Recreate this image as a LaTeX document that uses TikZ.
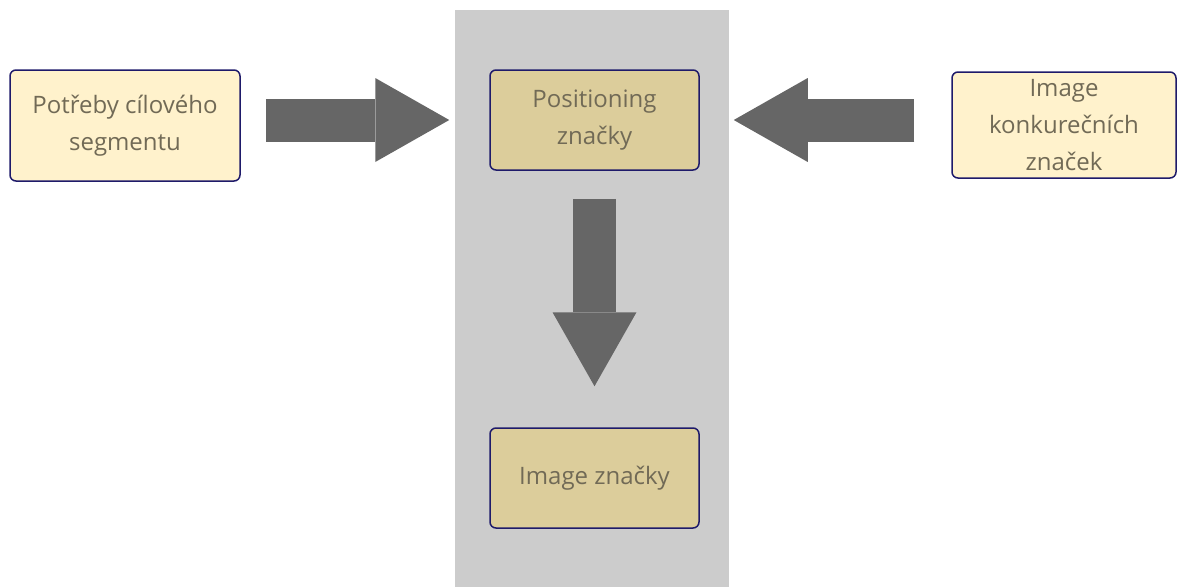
\documentclass[tikz,border=0pt]{standalone}
\usepackage{fontspec}
\setmainfont{Open Sans}
\usetikzlibrary{arrows.meta}
\definecolor{panelgris}{HTML}{CCCCCC}
\definecolor{flechagris}{HTML}{666666}
\definecolor{amarillo}{HTML}{FFF2CC}
\definecolor{ocre}{HTML}{DCCD9B}
\definecolor{azulborde}{HTML}{1E1A6A}
\definecolor{texto}{HTML}{716A56}
\begin{document}
\begin{tikzpicture}[x=1pt, y=-1pt,
	caja/.style={draw=azulborde, line width=1.5pt, rounded corners=6pt, align=center, text=texto, inner sep=0pt, font=\fontsize{24}{37}\selectfont},
	flecha/.style={flechagris, line width=43pt, -{Triangle[length=74pt, width=84pt, line width=0pt]}}]
	\def\w{1178}
	\def\h{587}
	\useasboundingbox (0,0) rectangle (\w,\h);
	
	\fill[panelgris] (455,10) rectangle (729,\h); % panel central
	
	% Cajas
	\node[caja, fill=amarillo, minimum width=230pt, minimum height=111pt] (necesidades) at (125,125.5) {Potřeby cílového\\segmentu};
	\node[caja, fill=ocre, minimum width=209pt, minimum height=100pt] (posicion) at (594.5,120) {Positioning\\značky};
	\node[caja, fill=amarillo, minimum width=224pt, minimum height=106pt] (competencia) at (1064,125) {Image\\konkurečních\\značek};
	\node[caja, fill=ocre, minimum width=209pt, minimum height=100pt] (imagen) at (594.5,478) {Image značky};
	
	% Flechas
	\draw[flecha, shorten <=25pt, shorten >=40pt] (necesidades.east |- posicion.west) -- (posicion.west);
	\draw[flecha, shorten <=37pt, shorten >=34pt] (competencia.west |- posicion.east) -- (posicion.east);
	\draw[flecha, shorten <=28pt, shorten >=41pt] (posicion.south) -- (imagen.north);
\end{tikzpicture}
\end{document}
